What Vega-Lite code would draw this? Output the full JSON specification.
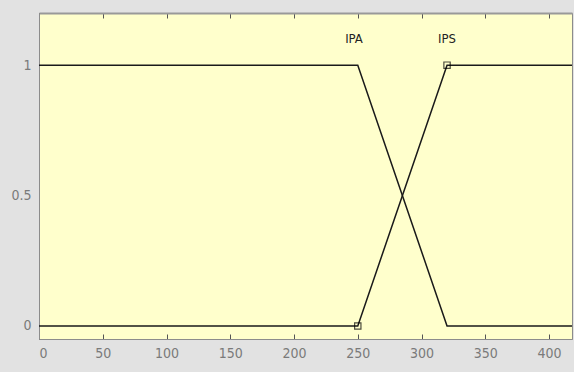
{
  "$schema": "https://vega.github.io/schema/vega-lite/v6.json",
  "width": 533,
  "height": 326,
  "autosize": "none",
  "padding": {"left": 39, "top": 13, "right": 2, "bottom": 33},
  "background": "#e2e2e2",
  "config": {
    "view": {"fill": "#ffffcc", "stroke": "#8c8c8c", "strokeWidth": 1},
    "axis": {
      "labelFont": "DejaVu Sans Condensed",
      "labelFontSize": 14,
      "labelColor": "#7a7a7a",
      "domainColor": "#8c8c8c",
      "tickColor": "#555555",
      "tickSize": -5,
      "grid": false,
      "title": null
    }
  },
  "resolve": {"axis": {"x": "independent"}},
  "datasets": {
    "lines": [
      {"mf": "IPA", "x": 0, "y": 1},
      {"mf": "IPA", "x": 250, "y": 1},
      {"mf": "IPA", "x": 320, "y": 0},
      {"mf": "IPA", "x": 420, "y": 0},
      {"mf": "IPS", "x": 0, "y": 0},
      {"mf": "IPS", "x": 250, "y": 0},
      {"mf": "IPS", "x": 320, "y": 1},
      {"mf": "IPS", "x": 420, "y": 1}
    ],
    "markers": [
      {"x": 250, "y": 0},
      {"x": 320, "y": 1}
    ],
    "labels": [
      {"x": 247, "y": 1.1, "name": "IPA"},
      {"x": 320, "y": 1.1, "name": "IPS"}
    ]
  },
  "layer": [
    {
      "data": {"name": "lines"},
      "mark": {"type": "line", "color": "#1a1a1a", "strokeWidth": 1.5, "clip": true},
      "encoding": {
        "x": {"field": "x", "type": "quantitative", "scale": {"domain": [0, 418], "nice": false, "zero": false},
              "axis": {"values": [0, 50, 100, 150, 200, 250, 300, 350, 400], "labelPadding": 12}},
        "y": {"field": "y", "type": "quantitative", "scale": {"domain": [-0.05, 1.2], "nice": false, "zero": false},
              "axis": {"values": [0, 0.5, 1], "format": "~g", "labelPadding": 8, "ticks": false}},
        "detail": {"field": "mf"}
      }
    },
    {
      "data": {"name": "markers"},
      "mark": {"type": "point", "shape": "square", "filled": false, "size": 40, "color": "#000000", "strokeWidth": 1.2},
      "encoding": {
        "x": {"field": "x", "type": "quantitative", "axis": {"orient": "top", "values": [0, 50, 100, 150, 200, 250, 300, 350, 400], "labels": false, "domainColor": "#999999", "domainWidth": 2}},
        "y": {"field": "y", "type": "quantitative"}
      }
    },
    {
      "data": {"name": "labels"},
      "mark": {"type": "text", "font": "DejaVu Sans Condensed", "fontSize": 13, "color": "#222222"},
      "encoding": {
        "x": {"field": "x", "type": "quantitative", "axis": null},
        "y": {"field": "y", "type": "quantitative"},
        "text": {"field": "name"}
      }
    }
  ]
}
